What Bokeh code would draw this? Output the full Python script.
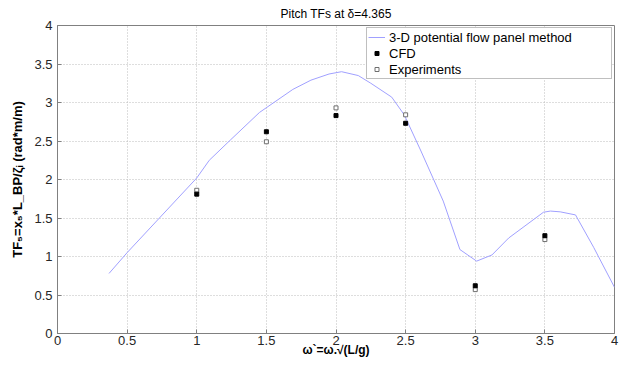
from bokeh.plotting import figure
from bokeh.models import FixedTicker, Legend, LegendItem
from bokeh.embed import file_html
from bokeh.resources import INLINE

# ---- data ----
panel_w = [0.37, 0.50, 1.00, 1.09, 1.24, 1.45, 1.69, 1.82, 1.95, 2.04, 2.16, 2.25,
           2.40, 2.49, 2.61, 2.77, 2.89, 3.01, 3.12, 3.24, 3.49, 3.54, 3.61, 3.72,
           3.85, 4.00]
panel_tf = [0.78, 1.05, 2.02, 2.25, 2.51, 2.87, 3.17, 3.29, 3.37, 3.40, 3.35, 3.25,
            3.07, 2.84, 2.37, 1.72, 1.09, 0.94, 1.02, 1.24, 1.575, 1.59, 1.58, 1.54,
            1.12, 0.60]
cfd_w = [1.0, 1.5, 2.0, 2.5, 3.0, 3.5]
cfd_tf = [1.81, 2.62, 2.83, 2.73, 0.62, 1.27]
exp_w = [1.0, 1.5, 2.0, 2.5, 3.0, 3.5]
exp_tf = [1.86, 2.49, 2.93, 2.84, 0.57, 1.22]
x_ticks = [0, 0.5, 1, 1.5, 2, 2.5, 3, 3.5, 4]
x_tick_labels = ["0", "0.5", "1", "1.5", "2", "2.5", "3", "3.5", "4"]
y_ticks = [0, 0.5, 1, 1.5, 2, 2.5, 3, 3.5, 4]
y_tick_labels = ["0", "0.5", "1", "1.5", "2", "2.5", "3", "3.5", "4"]

FONT = "Liberation Sans"

p = figure(width=620, height=360, x_range=(0, 4), y_range=(0, 4),
           output_backend="svg", toolbar_location=None,
           min_border_left=57, min_border_right=6, min_border_top=24,
           min_border_bottom=27, title="Pitch TFs at δ=4.365")

p.title.align = "center"
p.title.text_font = FONT
p.title.text_font_size = "12px"
p.title.text_font_style = "normal"
p.title.text_color = "#000000"
p.title.standoff = 9

p.background_fill_color = "white"
p.border_fill_color = "white"
p.outline_line_color = "#808080"
p.outline_line_width = 1

for ax in (p.xaxis[0], p.yaxis[0]):
    ax.major_tick_in = 4
    ax.major_tick_out = 0
    ax.minor_tick_line_color = None
    ax.axis_line_color = "#808080"
    ax.major_tick_line_color = "#808080"
    ax.major_label_text_font = FONT
    ax.major_label_text_font_size = "13px"
    ax.major_label_text_color = "#262626"
    ax.axis_label_text_font = FONT
    ax.axis_label_text_font_style = "bold"
    ax.axis_label_text_color = "#000000"

p.xaxis[0].ticker = FixedTicker(ticks=x_ticks)
p.xaxis[0].major_label_overrides = dict(zip(x_ticks, x_tick_labels))
p.yaxis[0].ticker = FixedTicker(ticks=y_ticks)
p.yaxis[0].major_label_overrides = dict(zip(y_ticks, y_tick_labels))

p.xaxis[0].axis_label = "ω`=ω.√(L/g)"
p.xaxis[0].axis_label_text_font_size = "12px"
p.xaxis[0].major_label_standoff = 2
p.xaxis[0].axis_label_standoff = -5

p.yaxis[0].axis_label = "TF₅=x₅*L_BP/ζᵢ (rad*m/m)"
p.yaxis[0].axis_label_text_font_size = "13px"
p.yaxis[0].major_label_standoff = 5
p.yaxis[0].axis_label_standoff = 6

for g in (p.xgrid[0], p.ygrid[0]):
    g.grid_line_color = "#bdbdbd"
    g.grid_line_dash = "1 2"
    g.grid_line_width = 1

r_line = p.line(panel_w, panel_tf, line_color="#a0a0ff", line_width=1)
r_exp = p.scatter(exp_w, exp_tf, marker="square", size=4, fill_color="white",
                  line_color="#6e6e6e", line_width=1)
r_cfd = p.scatter(cfd_w, cfd_tf, marker="square", size=4, fill_color="black",
                  line_color="black", line_width=1)

legend = Legend(items=[
    LegendItem(label="3-D potential flow panel method", renderers=[r_line]),
    LegendItem(label="CFD", renderers=[r_cfd]),
    LegendItem(label="Experiments", renderers=[r_exp]),
], location="top_right")
legend.margin = 2
legend.padding = 1
legend.spacing = 0
legend.glyph_width = 17
legend.glyph_height = 10
legend.label_height = 16
legend.label_standoff = 4
legend.label_width = 221
legend.label_text_font = FONT
legend.label_text_font_size = "13px"
legend.label_text_color = "#000000"
legend.border_line_color = "#7f7f7f"
legend.border_line_width = 1
legend.background_fill_color = "white"
legend.background_fill_alpha = 1
p.add_layout(legend, "center")

open("out.html", "w").write(file_html(p, INLINE))
